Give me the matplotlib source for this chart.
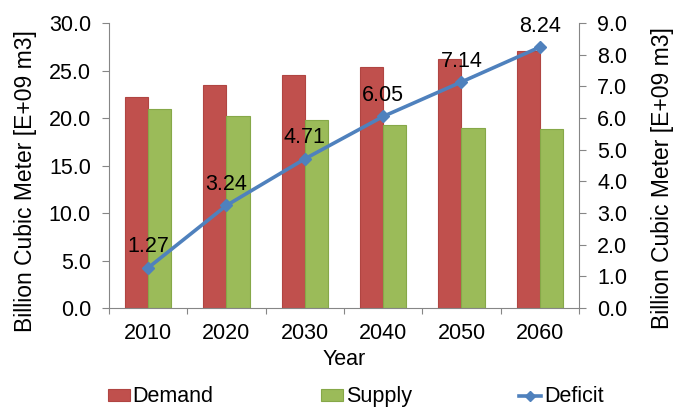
import matplotlib
matplotlib.use("Agg")
import matplotlib.pyplot as plt
import numpy as np
from matplotlib.lines import Line2D
from matplotlib.patches import Patch

years = ["2010", "2020", "2030", "2040", "2050", "2060"]
demand = [22.25, 23.45, 24.5, 25.35, 26.2, 27.05]
supply = [20.95, 20.2, 19.75, 19.25, 19.0, 18.8]
deficit = [1.27, 3.24, 4.71, 6.05, 7.14, 8.24]
deficit_labels = ["1.27", "3.24", "4.71", "6.05", "7.14", "8.24"]

plt.rcParams['font.family'] = ['Liberation Sans', 'DejaVu Sans']
FS = 15.5
c_dem = '#C0504D'
c_sup = '#9BBB59'
c_def = '#4F81BD'
grey = '#868686'

fig = plt.figure(figsize=(6.74, 4.08), dpi=100)
ax = fig.add_axes([0.1617, 0.245, 0.6973, 0.6985])
ax2 = ax.twinx()

x = np.arange(len(years))
w = 0.295
ax.bar(x - w/2, demand, w, color=c_dem, edgecolor='#B04542', linewidth=0.8, zorder=2)
ax.bar(x + w/2, supply, w, color=c_sup, edgecolor='#86A848', linewidth=0.8, zorder=2)

ax.set_xlim(-0.5, len(years) - 0.5)
ax.set_ylim(0, 30)
ax.set_yticks(np.arange(0, 30.1, 5))
ax.set_yticklabels([f"{v:.1f}" for v in np.arange(0, 30.1, 5)], fontsize=FS)
ax.set_xticks(np.arange(-0.5, len(years), 1))
ax.set_xticklabels([])
ax.set_xticks(x, minor=True)
ax.set_xticklabels(years, minor=True, fontsize=FS)
ax.tick_params(axis='x', which='minor', length=0, pad=11)
ax.tick_params(axis='x', which='major', length=4.5, color=grey)
ax.tick_params(axis='y', length=5, color=grey, pad=8)

ax2.plot(x, deficit, color=c_def, linewidth=2.6, marker='D', markersize=6, zorder=5)
ax2.set_ylim(0, 9)
ax2.set_yticks(np.arange(0, 9.1, 1))
ax2.set_yticklabels([f"{v:.1f}" for v in np.arange(0, 9.1, 1)], fontsize=FS)
ax2.tick_params(axis='y', length=5, color=grey, pad=8)
for xi, v, lab in zip(x, deficit, deficit_labels):
    ax2.annotate(lab, (xi, v), xytext=(0, 7.5), textcoords='offset points',
                 ha='center', va='bottom', fontsize=FS)

for a in (ax, ax2):
    a.spines['top'].set_visible(False)
    for s in ('left', 'right', 'bottom'):
        a.spines[s].set_color(grey)
ax2.spines['left'].set_visible(False)
ax2.spines['bottom'].set_visible(False)
ax.spines['right'].set_visible(False)

ax.set_ylabel("Billion Cubic Meter [E+09 m3]", fontsize=16.5, va='center')
ax.yaxis.set_label_coords(-0.178, 0.446)
ax2.set_ylabel("Billion Cubic Meter [E+09 m3]", fontsize=16.5, rotation=90, va='center')
ax2.yaxis.set_label_coords(1.177, 0.455)
ax.set_xlabel("Year", fontsize=FS, va='center')
ax.xaxis.set_label_coords(0.5, -0.179)

handles = [Patch(facecolor=c_dem, edgecolor='#B04542', linewidth=0.8),
           Patch(facecolor=c_sup, edgecolor='#86A848', linewidth=0.8),
           Line2D([], [], color=c_def, linewidth=2.6, marker='D', markersize=5)]
fig.legend(handles, ["Demand", "Supply", "Deficit"], loc='center', ncol=3,
           bbox_to_anchor=(0.528, 0.027), frameon=False, fontsize=FS,
           handlelength=1.0, handleheight=0.5, handletextpad=0.14, columnspacing=5.0,
           borderpad=0, borderaxespad=0)

fig.savefig("out.png", dpi=100)
